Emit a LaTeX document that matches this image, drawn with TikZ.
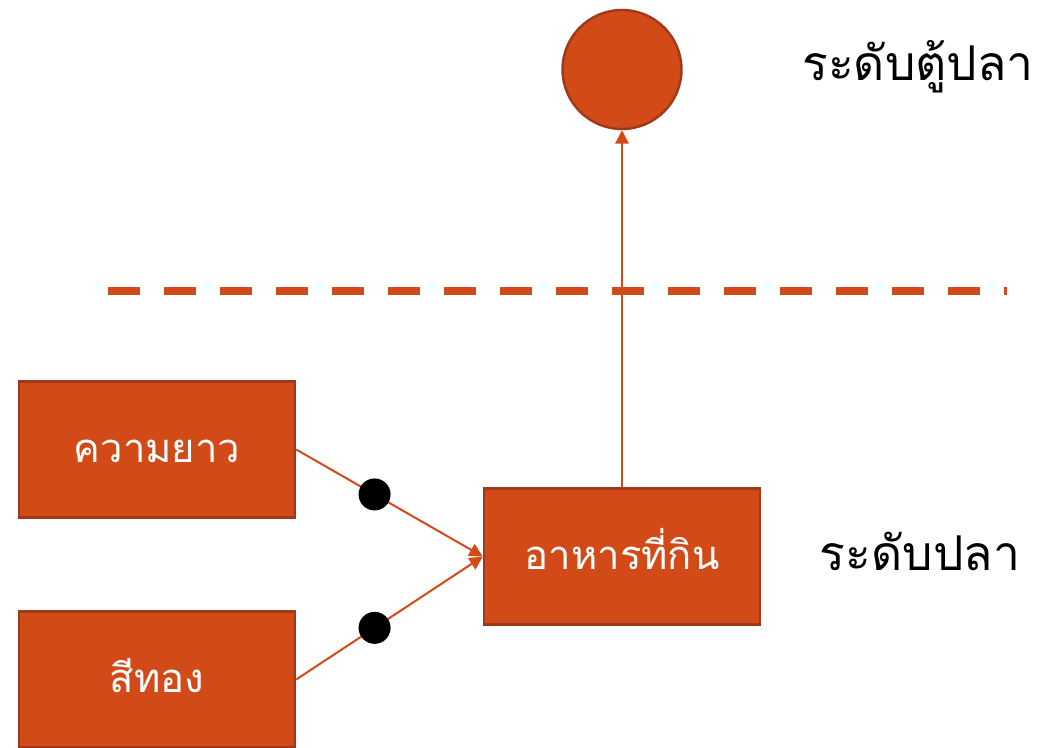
\documentclass[tikz,border=0pt]{standalone}
\usepackage{fontspec}
\newfontfamily\thaifont[Script=Thai]{Loma}
\usetikzlibrary{arrows.meta}
\definecolor{org}{RGB}{210,74,24}
\definecolor{orgdark}{RGB}{160,56,26}
\tikzset{
  box/.style={draw=orgdark, line width=1.8pt, fill=org, minimum width=276*0.75pt, minimum height=136*0.75pt, inner sep=0pt, text=white, text height=26pt, text depth=6.5pt, font=\thaifont\fontsize{30}{34}\selectfont},
  lvl/.style={text=black, font=\thaifont\fontsize{36}{40}\selectfont, inner sep=0pt},
  conn/.style={draw=org, line width=1.5pt, -{Triangle[length=10pt,width=10pt]}},
  dot/.style={circle, fill=black, minimum size=32*0.75pt, inner sep=0pt}
}
\begin{document}
\begin{tikzpicture}[x=0.75pt,y=-0.75pt]
\useasboundingbox (0,0) rectangle (1046,747);
\node[circle, draw=orgdark, line width=1.8pt, fill=org, minimum size=119*0.75pt, inner sep=0pt] (tank) at (622,69.5) {};
\node[lvl] (tanklbl) at (918,67) {ระดับตู้ปลา};
\draw[org, line width=6pt, dash pattern=on 24pt off 18pt] (108,291) -- (1007,291);
\node[box] (len) at (157,449.5) {ความยาว};
\node[box] (gold) at (157,679.5) {สีทอง};
\node[box] (food) at (622,556.5) {อาหารที่กิน};
\node[lvl] (fishlbl) at (920,551) {ระดับปลา};
\draw[conn] (food.north) -- (tank.south);
\draw[conn] (len.east) -- node[dot, pos=0.42] (d1) {} (food.west);
\draw[conn] (gold.east) -- node[dot, pos=0.42] (d2) {} (food.west);
\end{tikzpicture}
\end{document}
